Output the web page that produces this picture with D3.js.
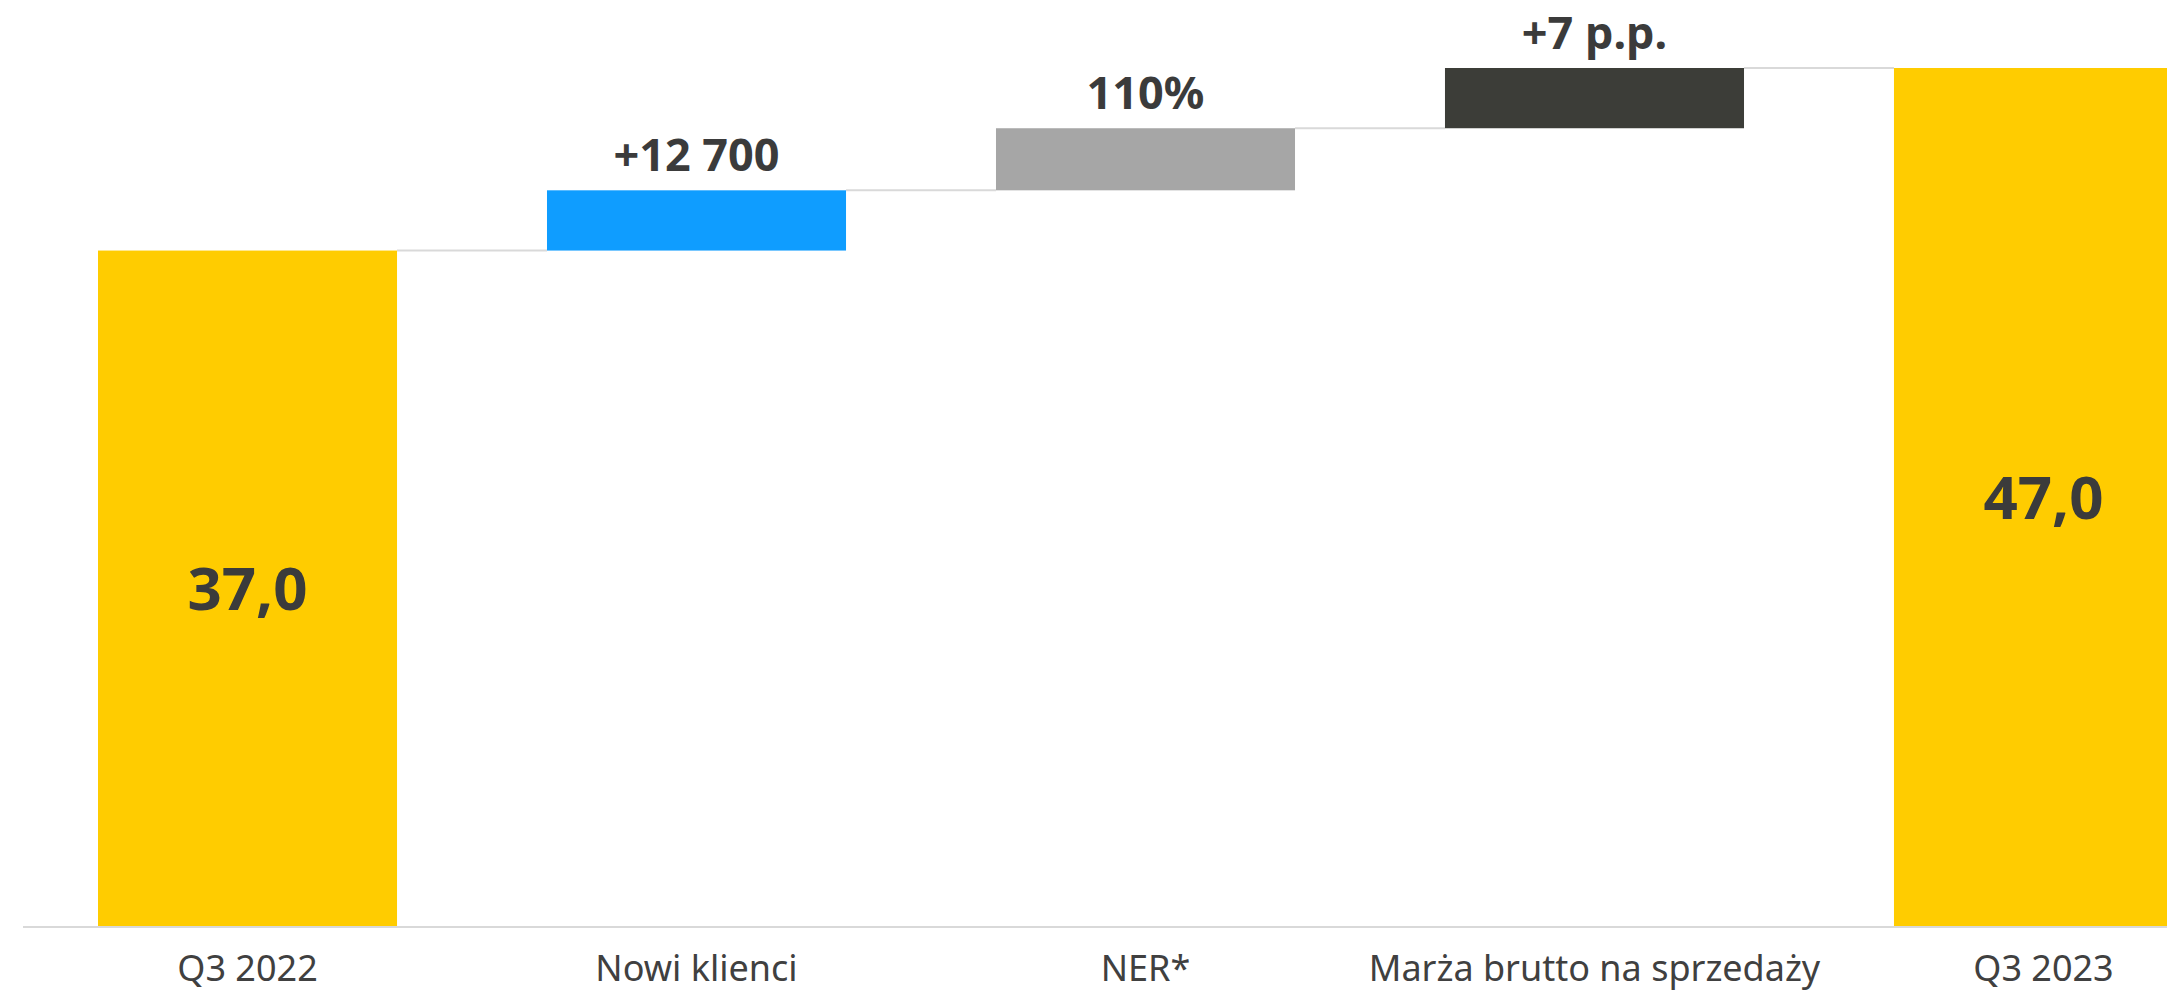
<!DOCTYPE html>
<html>
<head>
<meta charset="utf-8">
<script src="https://cdn.jsdelivr.net/npm/d3@7"></script>
<style>
  html, body { margin: 0; padding: 0; background: #fff; overflow: hidden; }
</style>
</head>
<body>
<div id="chart"></div>
<script>
const categories = ['Q3 2022', 'Nowi klienci', 'NER*', 'Marża brutto na sprzedaży', 'Q3 2023']
const kinds = ['total', 'delta', 'delta', 'delta', 'total']
const values = [37.0, 3.3, 3.4, 3.3, 47.0]
const labels = ['37,0', '+12 700', '110%', '+7 p.p.', '47,0']
const colors = ['#FFCC00', '#0F9DFF', '#A6A6A6', '#3C3D38', '#FFCC00']

const width = 2167
const height = 995

// running totals for the waterfall
let running = 0
const bars = categories.map((c, i) => {
  let y0, y1
  if (kinds[i] === 'total') {
    y0 = 0
    y1 = values[i]
    running = values[i]
  } else {
    y0 = running
    y1 = running + values[i]
    running = y1
  }
  return { cat: c, kind: kinds[i], y0, y1, label: labels[i], color: colors[i] }
})

const svg = d3.select('#chart')
  .append('svg')
  .attr('width', width)
  .attr('height', height)

const x = d3.scaleBand()
  .domain(categories)
  .range([98, 2193])
  .paddingInner(0.334)
  .paddingOuter(0)

const y = d3.scaleLinear()
  .domain([0, 47])
  .range([926, 68])

// connectors
const links = bars.slice(0, -1).map((b, i) => ({ from: b, to: bars[i + 1], level: b.y1 }))
svg.append('g')
  .selectAll('line')
  .data(links)
  .join('line')
  .attr('x1', d => x(d.from.cat) + x.bandwidth())
  .attr('x2', d => x(d.to.cat))
  .attr('y1', d => y(d.level))
  .attr('y2', d => y(d.level))
  .attr('stroke', '#d9d9d9')
  .attr('stroke-width', 2)

svg.append('g')
  .selectAll('rect')
  .data(bars)
  .join('rect')
  .attr('x', d => x(d.cat))
  .attr('width', x.bandwidth())
  .attr('y', d => y(d.y1))
  .attr('height', d => y(d.y0) - y(d.y1))
  .attr('fill', d => d.color)

// baseline
svg.append('line')
  .attr('x1', 23)
  .attr('x2', width)
  .attr('y1', y(0) + 1)
  .attr('y2', y(0) + 1)
  .attr('stroke', '#d9d9d9')
  .attr('stroke-width', 2)

// value labels
svg.append('g')
  .selectAll('text')
  .data(bars)
  .join('text')
  .attr('x', d => x(d.cat) + x.bandwidth() / 2)
  .attr('y', d => d.kind === 'total' ? (y(d.y0) + y(d.y1)) / 2 + 22 : y(d.y1) - 19)
  .attr('text-anchor', 'middle')
  .attr('font-family', 'Noto Sans')
  .attr('font-weight', 'bold')
  .attr('font-size', d => d.kind === 'total' ? 60 : 45)
  .attr('fill', '#3B3B3B')
  .text(d => d.label)

// category axis
const xAxis = svg.append('g')
  .attr('transform', `translate(0,${y(0)})`)
  .call(d3.axisBottom(x).tickSize(0).tickPadding(29))
xAxis.select('.domain').remove()
xAxis.selectAll('text')
  .attr('font-family', 'Noto Sans')
  .attr('font-size', 36)
  .attr('fill', '#404040')
</script>
</body>
</html>
